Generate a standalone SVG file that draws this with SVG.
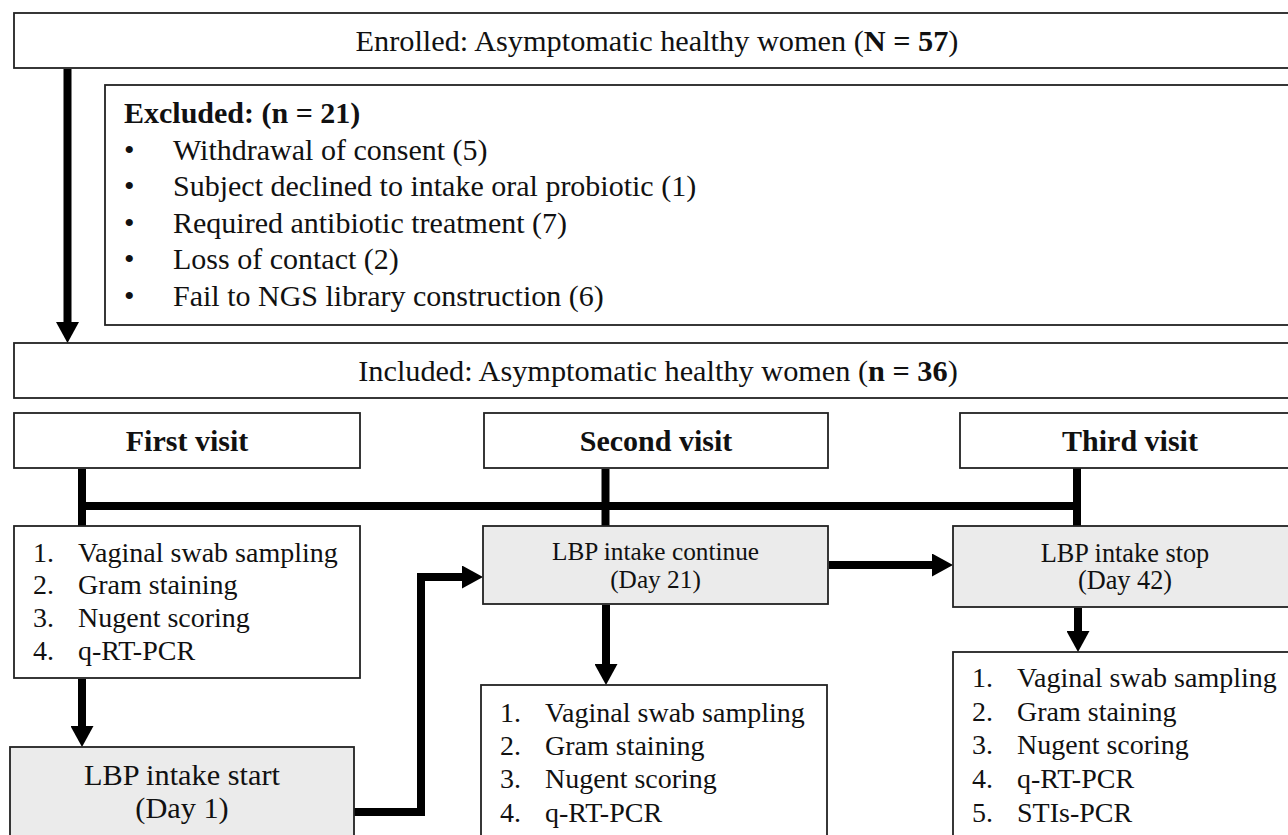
<svg xmlns="http://www.w3.org/2000/svg" width="1288" height="835" viewBox="0 0 1288 835">
<style>
.box{fill:#fff;stroke:#222;stroke-width:1.8}
.gbox{fill:#ebebeb;stroke:#222;stroke-width:1.8}
.t{font-family:"Liberation Serif",Tinos,"Times New Roman",Times,serif;fill:#111}
.b{font-weight:bold}
.c{text-anchor:middle}
.con{fill:none;stroke:#000;stroke-width:8;stroke-linejoin:miter}
</style>
<defs>
<marker id="ah" markerUnits="userSpaceOnUse" markerWidth="21" markerHeight="23" viewBox="0 0 21 23" refX="0" refY="11.5" orient="auto">
<path d="M0,0 L21,11.5 L0,23 z" fill="#000"/>
</marker>
</defs>
<rect width="1288" height="835" fill="#fff"/>

<g id="connectors">
<path class="con" d="M67.5,69 V322" marker-end="url(#ah)"/>
<path class="con" d="M82,469 V526"/>
<path class="con" d="M605.5,469 V526"/>
<path class="con" d="M1077,468 V526"/>
<path class="con" d="M78,506 H1081"/>
<path class="con" d="M82,679 V726" marker-end="url(#ah)"/>
<path class="con" d="M354,812 H421 V577 H462" marker-end="url(#ah)"/>
<path class="con" d="M606,605 V664" marker-end="url(#ah)"/>
<path class="con" d="M829,565 H932" marker-end="url(#ah)"/>
<path class="con" d="M1078,608 V631" marker-end="url(#ah)"/>
</g>

<g id="enrolled">
<rect class="box" x="14" y="13" width="1290" height="55"/>
<text class="t c" x="657" y="51" font-size="30.3">Enrolled: Asymptomatic healthy women (<tspan class="b">N = 57</tspan>)</text>
</g>

<g id="excluded">
<rect class="box" x="105" y="85" width="1200" height="240"/>
<text class="t b" x="124" y="123" font-size="30">Excluded: (n = 21)</text>
<g class="t" font-size="30">
<text x="124" y="159.5">•</text><text x="173" y="159.5">Withdrawal of consent (5)</text>
<text x="124" y="196">•</text><text x="173" y="196">Subject declined to intake oral probiotic (1)</text>
<text x="124" y="232.5">•</text><text x="173" y="232.5">Required antibiotic treatment (7)</text>
<text x="124" y="269">•</text><text x="173" y="269">Loss of contact (2)</text>
<text x="124" y="305.5">•</text><text x="173" y="305.5">Fail to NGS library construction (6)</text>
</g>
</g>

<g id="included">
<rect class="box" x="14" y="343" width="1290" height="55"/>
<text class="t c" x="658" y="381" font-size="30.3">Included: Asymptomatic healthy women (<tspan class="b">n = 36</tspan>)</text>
</g>

<g id="first-visit">
<rect class="box" x="14" y="413" width="346" height="55"/>
<text class="t b c" x="187" y="451" font-size="30">First visit</text>
</g>
<g id="second-visit">
<rect class="box" x="484" y="413" width="344" height="55"/>
<text class="t b c" x="656" y="451" font-size="30">Second visit</text>
</g>
<g id="third-visit">
<rect class="box" x="960" y="413" width="340" height="55"/>
<text class="t b c" x="1130" y="451" font-size="30">Third visit</text>
</g>

<g id="first-list">
<rect class="box" x="14" y="526" width="346" height="152"/>
<g class="t" font-size="28">
<text x="33" y="561.5">1.</text><text x="78" y="561.5">Vaginal swab sampling</text>
<text x="33" y="594">2.</text><text x="78" y="594">Gram staining</text>
<text x="33" y="627">3.</text><text x="78" y="627">Nugent scoring</text>
<text x="33" y="660">4.</text><text x="78" y="660">q-RT-PCR</text>
</g>
</g>

<g id="lbp-start">
<rect class="gbox" x="10" y="747" width="344" height="100"/>
<text class="t c" x="182" y="785" font-size="30.3">LBP intake start</text>
<text class="t c" x="182" y="818" font-size="30.3">(Day 1)</text>
</g>

<g id="lbp-continue">
<rect class="gbox" x="483" y="526" width="345" height="78"/>
<text class="t c" x="655.5" y="560" font-size="25.3">LBP intake continue</text>
<text class="t c" x="655.5" y="588" font-size="25.3">(Day 21)</text>
</g>

<g id="second-list">
<rect class="box" x="481" y="685" width="346" height="160"/>
<g class="t" font-size="28">
<text x="500" y="721.5">1.</text><text x="545" y="721.5">Vaginal swab sampling</text>
<text x="500" y="755">2.</text><text x="545" y="755">Gram staining</text>
<text x="500" y="787.5">3.</text><text x="545" y="787.5">Nugent scoring</text>
<text x="500" y="821.5">4.</text><text x="545" y="821.5">q-RT-PCR</text>
</g>
</g>

<g id="lbp-stop">
<rect class="gbox" x="953" y="526" width="344" height="81"/>
<text class="t c" x="1125" y="562" font-size="26.3">LBP intake stop</text>
<text class="t c" x="1125" y="589" font-size="26.3">(Day 42)</text>
</g>

<g id="third-list">
<rect class="box" x="953" y="652" width="344" height="200"/>
<g class="t" font-size="28">
<text x="972" y="687">1.</text><text x="1017" y="687">Vaginal swab sampling</text>
<text x="972" y="720.5">2.</text><text x="1017" y="720.5">Gram staining</text>
<text x="972" y="754">3.</text><text x="1017" y="754">Nugent scoring</text>
<text x="972" y="787.5">4.</text><text x="1017" y="787.5">q-RT-PCR</text>
<text x="972" y="821.5">5.</text><text x="1017" y="821.5">STIs-PCR</text>
</g>
</g>
</svg>
